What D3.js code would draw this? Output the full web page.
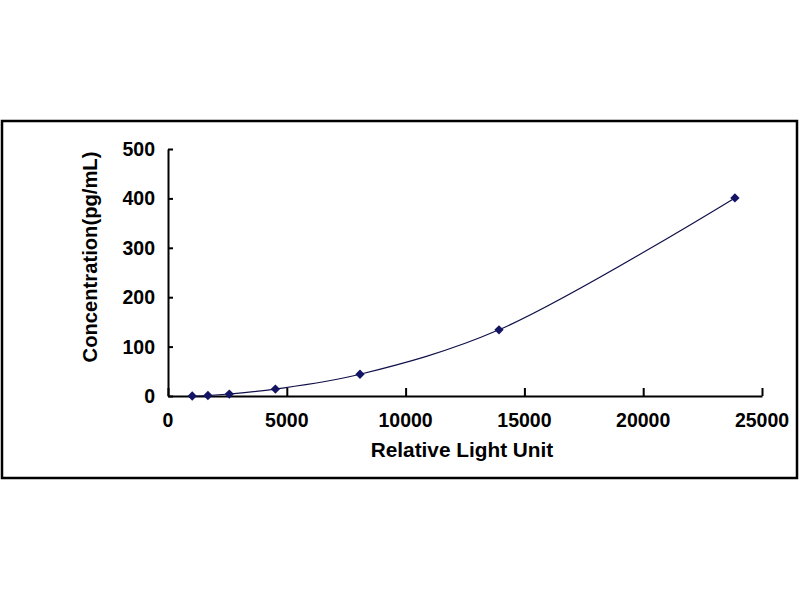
<!DOCTYPE html>
<html>
<head>
<meta charset="utf-8">
<script src="https://d3js.org/d3.v7.min.js"></script>
<style>
  body { margin: 0; background: #fff; }
  text { font-family: "Liberation Sans", Arial, sans-serif; font-weight: bold; fill: #000; }
</style>
</head>
<body>
<script>
// standard curve points
var rlu = [1020, 1680, 2580, 4520, 8080, 13930, 23860];
var conc = [0, 1, 4, 14, 44, 134, 401];
var xTicks = [0, 5000, 10000, 15000, 20000, 25000];
var yTicks = [0, 100, 200, 300, 400, 500];

var svg = d3.select("body").append("svg")
    .attr("width", 800)
    .attr("height", 600);

// outer frame
svg.append("rect")
    .attr("x", 2).attr("y", 121)
    .attr("width", 795).attr("height", 357)
    .attr("fill", "none")
    .attr("stroke", "#000")
    .attr("stroke-width", 2.5);

var x = d3.scaleLinear().domain([0, 25000]).range([168, 762]);
var y = d3.scaleLinear().domain([0, 500]).range([396, 149]);

// x axis, ticks point inward
var xAxis = svg.append("g")
    .attr("transform", "translate(0," + y(0) + ")")
    .call(d3.axisTop(x).tickValues(xTicks).tickSize(8).tickSizeOuter(0).tickFormat(""));
xAxis.selectAll("line, path").attr("stroke", "#000").attr("stroke-width", 2);

svg.selectAll(".xlab").data(xTicks).enter().append("text")
    .attr("class", "xlab")
    .attr("x", function(d){ return x(d); })
    .attr("y", 427)
    .attr("text-anchor", "middle")
    .attr("font-size", 19.5)
    .text(function(d){ return d; });

var yAxis = svg.append("g")
    .attr("transform", "translate(" + x(0) + ",0)")
    .call(d3.axisRight(y).tickValues(yTicks).tickSize(5).tickSizeOuter(0).tickFormat(""));
yAxis.selectAll("line, path").attr("stroke", "#000").attr("stroke-width", 2);

svg.selectAll(".ylab").data(yTicks).enter().append("text")
    .attr("class", "ylab")
    .attr("x", 155)
    .attr("y", function(d){ return y(d) + 7; })
    .attr("text-anchor", "end")
    .attr("font-size", 19.5)
    .text(function(d){ return d; });

svg.append("text")
    .attr("x", 462).attr("y", 457)
    .attr("text-anchor", "middle")
    .attr("font-size", 20.8)
    .text("Relative Light Unit");

svg.append("text")
    .attr("transform", "translate(97,257) rotate(-90)")
    .attr("text-anchor", "middle")
    .attr("font-size", 20.2)
    .text("Concentration(pg/mL)");

var pts = rlu.map(function(d, i){ return [d, conc[i]]; });

var line = d3.line()
    .x(function(d){ return x(d[0]); })
    .y(function(d){ return y(d[1]); })
    .curve(d3.curveCatmullRom.alpha(0.5));

svg.append("path")
    .datum(pts)
    .attr("d", line)
    .attr("fill", "none")
    .attr("stroke", "#10104a")
    .attr("stroke-width", 1.2);

svg.selectAll(".pt").data(pts).enter().append("path")
    .attr("class", "pt")
    .attr("transform", function(d){ return "translate(" + x(d[0]) + "," + y(d[1]) + ")"; })
    .attr("d", d3.symbol().type(d3.symbolDiamond2).size(55))
    .attr("fill", "#141464");
</script>
</body>
</html>
